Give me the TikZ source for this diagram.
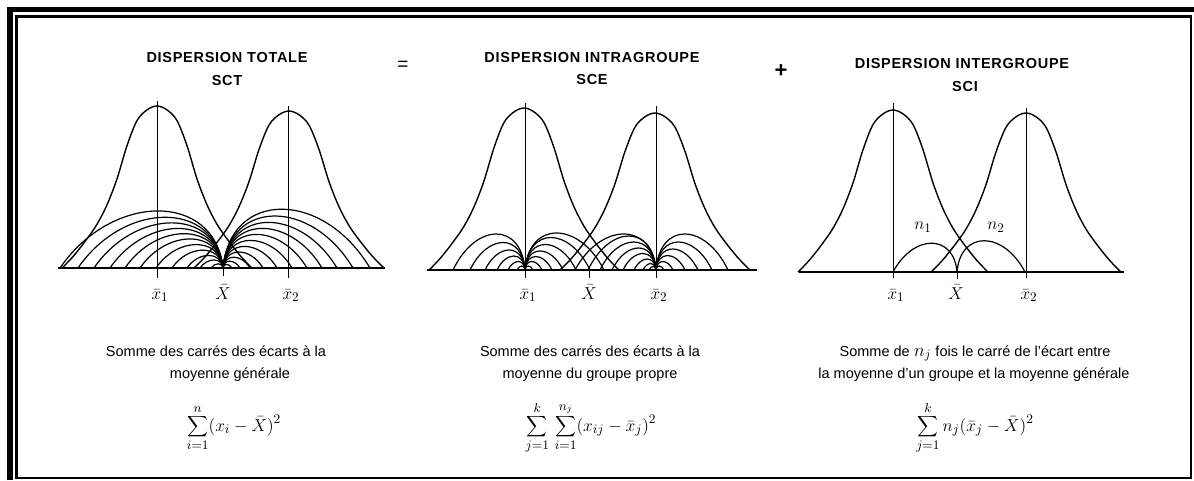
\documentclass[tikz,border=0pt]{standalone}
\usepackage{graphicx}
\usepackage{fontspec}
\newfontfamily\hsans{Liberation Sans}
\newfontfamily\hsanswide[LetterSpace=5]{Liberation Sans}
\newcommand\bellcurve[3]{%
  \begin{scope}[shift={(#1,#2)},yscale=#3]
  \draw[curve] plot[smooth,tension=0.55] coordinates {(-95,0) (-87,-0.05) (-80,-0.10)
    (-70,-0.18) (-60,-0.27) (-50,-0.39) (-40,-0.55) (-30,-0.755) (-20,-0.91) (-10,-0.976)
    (0,-1) (10,-0.976) (20,-0.91) (30,-0.755) (40,-0.55) (50,-0.39) (60,-0.27) (70,-0.18)
    (80,-0.10) (87,-0.05) (95,0)};
  \end{scope}}
\newcommand\fanarc[5]{% #1 far end, #2 fan point, #3 baseline, #4 ratio, #5 cap
  \pgfmathsetmacro\fanW{#2-(#1)}%
  \pgfmathsetmacro\fanC{min(#4*abs(\fanW),#5)/0.75}%
  \draw[arcline] (#1,#3) .. controls ({#1+0.32*\fanW},{#3-\fanC})
     and ({#2-0.05*\fanW},{#3-\fanC}) .. (#2,#3);}
\newcommand\lblmath[1]{\scalebox{1.2}{$#1$}}
\newcommand\fmlabox[1]{\scalebox{1.45}{$\displaystyle #1$}}
\begin{document}
\begin{tikzpicture}[x=1pt,y=-1pt,
  curve/.style={line width=1.4pt,black},
  arcline/.style={line width=1.2pt,black},
  axisline/.style={line width=1.5pt,black},
  meanline/.style={line width=1pt,black},
  titletext/.style={font={\fontsize{14.5}{17}\hsanswide\bfseries},anchor=base,inner sep=0pt},
  bodytext/.style={font={\fontsize{14.5}{17}\hsans},anchor=base,inner sep=0pt},
  lbl/.style={font={\fontsize{15}{18}\selectfont},anchor=base,inner sep=0pt},
  formula/.style={font={\fontsize{13}{16}\selectfont},anchor=base,inner sep=0pt},
  opsym/.style={inner sep=0pt}]
\useasboundingbox (0,0) rectangle (1194,480);
\fill[white] (0,0) rectangle (1194,480);
% frame
\draw[line width=5.5pt] (10,480) -- (10,9.5) -- (1194,9.5);
\draw[line width=2.2pt] (16.5,16.5) rectangle (1191,478);
% titles
\node[titletext] (t1) at (227,62) {DISPERSION TOTALE};
\node[titletext] (t1b) at (227,85) {SCT};
\node[titletext] (t2) at (592,62) {DISPERSION INTRAGROUPE};
\node[titletext] (t2b) at (592,84) {SCE};
\node[titletext] (t3) at (962,68) {DISPERSION INTERGROUPE};
\node[titletext] (t3b) at (965,91) {SCI};
\node[opsym,font={\fontsize{19}{20}\hsans}] (eq) at (403,66) {=};
\node[opsym,font={\fontsize{22}{24}\hsans\bfseries}] (plus) at (781,71) {+};
% ---------- panel 1
\draw[axisline] (58,268) -- (385,268);
\draw[meanline] (157,101) -- (157,278);
\draw[meanline] (288,106) -- (288,278);
\draw[meanline] (223,268) -- (223,276);
\bellcurve{157}{268}{162}
\bellcurve{289}{268}{157}
\foreach \s in {60,78,94,110,125,140,156,172,187,200,211} {\fanarc{\s}{223}{268}{0.35}{60}}
\foreach \e in {370,353,337,322,307,292,277,263,250,240,232} {\fanarc{\e}{223}{268}{0.4}{60}}
\node[lbl] (a1) at (160,299) {\lblmath{\bar x_1}};
\node[lbl] (a2) at (223,299) {\lblmath{\bar X}};
\node[lbl] (a3) at (291,299) {\lblmath{\bar x_2}};
% ---------- panel 2
\draw[axisline] (427,270) -- (757,270);
\draw[meanline] (525,103) -- (525,278);
\draw[meanline] (656,106) -- (656,278);
\draw[meanline] (589,270) -- (589,278);
\bellcurve{524}{270}{162}
\bellcurve{655}{270}{157}
\foreach \s in {453,470,485,497,508,517} {\fanarc{\s}{525}{270}{0.5}{37}}
\foreach \e in {533,542,552,563,576,590,604} {\fanarc{\e}{525}{270}{0.5}{37}}
\foreach \s in {575,588,600,612,623,634,643,649} {\fanarc{\s}{656}{270}{0.5}{36}}
\foreach \e in {664,673,685,698,712,728} {\fanarc{\e}{656}{270}{0.5}{36}}
\node[lbl] (b1) at (528,299) {\lblmath{\bar x_1}};
\node[lbl] (b2) at (589,299) {\lblmath{\bar X}};
\node[lbl] (b3) at (659,299) {\lblmath{\bar x_2}};
% ---------- panel 3
\draw[axisline] (799,272) -- (1124,272);
\draw[meanline] (893,103) -- (893,278);
\draw[meanline] (1026,108) -- (1026,278);
\draw[meanline] (957,272) -- (957,279);
\bellcurve{893}{272}{162}
\bellcurve{1026}{272}{159}
\fanarc{893}{957}{272}{0.45}{60}
\fanarc{1025}{957}{272}{0.46}{60}
\node[lbl,anchor=center] (n1) at (923,227) {\lblmath{n_1}};
\node[lbl,anchor=center] (n2) at (996,227) {\lblmath{n_2}};
\node[lbl] (c1) at (896,299) {\lblmath{\bar x_1}};
\node[lbl] (c2) at (956,299) {\lblmath{\bar X}};
\node[lbl] (c3) at (1029,299) {\lblmath{\bar x_2}};
% ---------- descriptions
\node[bodytext] (d1a) at (216,356) {Somme des carrés des écarts à la};
\node[bodytext] (d1b) at (230,378) {moyenne générale};
\node[bodytext] (d2a) at (590,356) {Somme des carrés des écarts à la};
\node[bodytext] (d2b) at (590,378) {moyenne du groupe propre};
\node[bodytext] (d3a) at (975,356) {Somme de \scalebox{1.3}{$n_j$} fois le carré de l’écart entre};
\node[bodytext] (d3b) at (974,378) {la moyenne d’un groupe et la moyenne générale};
% ---------- formulas
\node[formula] (f1) at (234,431) {\fmlabox{\sum_{i=1}^{n}(x_i-\bar X)^2}};
\node[formula] (f2) at (591,431) {\fmlabox{\sum_{j=1}^{k}\,\sum_{i=1}^{n_j}(x_{ij}-\bar x_j)^2}};
\node[formula] (f3) at (975,431) {\fmlabox{\sum_{j=1}^{k} n_j(\bar x_j-\bar X)^2}};
\end{tikzpicture}
\end{document}
